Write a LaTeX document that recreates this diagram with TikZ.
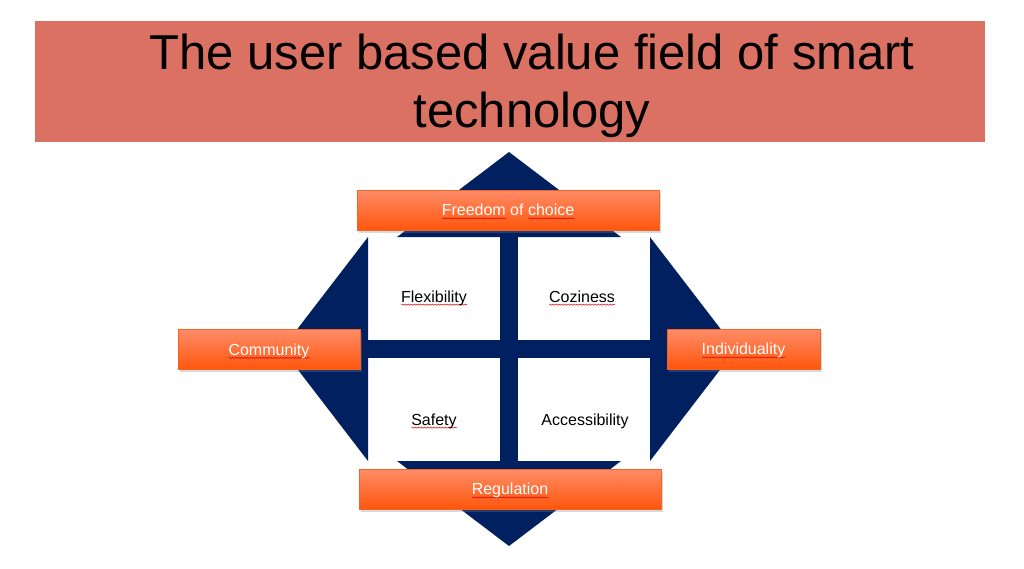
\documentclass[tikz,border=0pt]{standalone}
\usepackage{fontspec}
\setmainfont{Liberation Sans}
\usepackage{xcolor}
\usepackage{tikz}
\usetikzlibrary{shadows,decorations.pathmorphing}

\definecolor{bannerred}{RGB}{219,113,99}
\definecolor{fieldblue}{RGB}{0,32,96}
\definecolor{labeltop}{RGB}{255,140,104}
\definecolor{labelbot}{RGB}{255,86,12}
\definecolor{labelline}{RGB}{240,100,40}

% red spell-check wave under a word
\newsavebox\spellbox
\newcommand\spellwave[1]{\sbox\spellbox{#1}\rlap{\raisebox{-3.5pt}[0pt][0pt]{\tikz[x=1pt,y=1pt]\draw[red!85!black, line width=0.5pt,
    decorate, decoration={snake, amplitude=0.6pt, segment length=3pt}] (0,0) -- (\wd\spellbox,0);}}\usebox\spellbox}

\begin{document}
\begin{tikzpicture}[
    x=1pt, y=-1pt,
    banner/.style={fill=bannerred, minimum width=950pt, minimum height=121pt, inner sep=0pt},
    headline/.style={align=center, inner sep=0pt, font=\fontsize{49}{58}\selectfont},
    field/.style={fill=fieldblue, draw=none},
    valuebox/.style={draw=labelline, line width=0.6pt, top color=labeltop, bottom color=labelbot,
                     minimum height=40pt, inner sep=0pt, text=white, text height=11.5pt, text depth=0pt,
                     font=\fontsize{16}{19}\selectfont,
                     drop shadow={shadow xshift=2pt, shadow yshift=-2.5pt, opacity=0.3}},
    quadtext/.style={anchor=base, inner sep=0pt, font=\fontsize{16}{19}\selectfont}
]
\useasboundingbox (0,0) rectangle (1024,568);

% title
\node[banner] (banner) at (510,81.5) {};
\node[headline] (title) at (532,86) {The user based value field of smart\\technology};

% the value field: four triangles and the cross
\fill[field] (509,152) -- (397,237) -- (621,237) -- cycle;
\fill[field] (509,546) -- (397,461) -- (621,461) -- cycle;
\fill[field] (282,349) -- (368,237) -- (368,461) -- cycle;
\fill[field] (736,349) -- (650,237) -- (650,461) -- cycle;
\fill[field] (499.5,237) rectangle (517.5,461);
\fill[field] (368,340) rectangle (650,358);

\node[quadtext] (flex) at (434,302) {\spellwave{Flexibility}};
\node[quadtext] (cozy) at (582,302) {\spellwave{Coziness}};
\node[quadtext] (safe) at (434,425) {\spellwave{Safety}};
\node[quadtext] (access) at (585,425) {Accessibility};

% the four poles
\node[valuebox, minimum width=302pt] (freedom) at (508,210) {\spellwave{Freedom} of \spellwave{choice}};
\node[valuebox, minimum width=182pt] (community) at (269,349.5) {\spellwave{Community}};
\node[valuebox, minimum width=153pt] (individual) at (743.5,349) {\spellwave{Individuality}};
\node[valuebox, minimum width=302pt] (regulation) at (510,489) {\spellwave{Regulation}};
\end{tikzpicture}
\end{document}
